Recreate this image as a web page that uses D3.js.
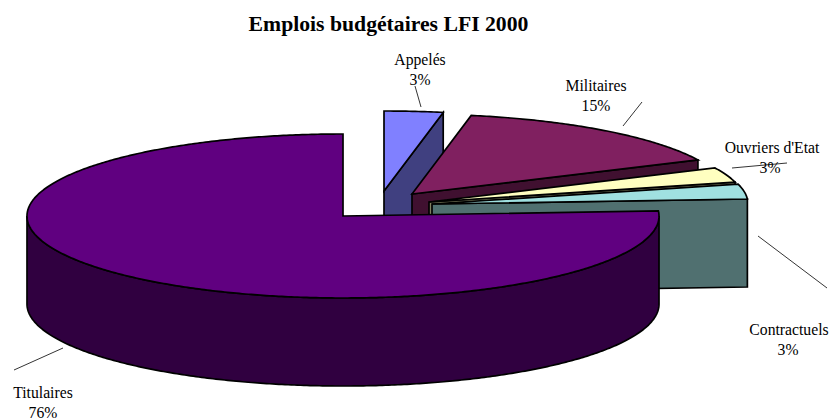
<!DOCTYPE html>
<html lang="fr">
<head>
<meta charset="utf-8">
<title>Emplois budgétaires LFI 2000</title>
<script src="https://cdn.jsdelivr.net/npm/d3@7/dist/d3.min.js"></script>
<style>
  html, body { margin: 0; padding: 0; background: #fff; overflow: hidden; }
  svg { display: block; }
  text { font-family: "Liberation Serif", "Times New Roman", serif; fill: #000; }
</style>
</head>
<body>
<svg id="chart" width="830" height="418"></svg>
<script>
// Budget posts by staff category, clockwise from twelve o'clock
const categories = ["Appelés", "Militaires", "Ouvriers d'Etat", "Contractuels", "Titulaires"];
const shares = [3, 15, 3, 3, 76];

// Palette for upper faces and for the darker side walls
const topColors = ["#8080ff", "#802060", "#ffffc0", "#a0e0e0", "#600080"];
const wallColors = ["#404080", "#401030", "#808060", "#507070", "#300040"];

// Exploded slice apexes in page coordinates, with each slice's vertical radius
const apexX = [384, 412, 429, 432, 343];
const apexY = [191, 194, 202, 204, 216];
const radiusY = [80, 80, 80, 80, 82];

// Label anchors and leader lines
const labelX = [420, 596, 772, 789, 43];
const labelY = [65, 91, 153, 335, 398];
const percentOffsetX = [0, 0, -2, -1, 0];
const leaders = [
  [[415, 86], [421, 107]],
  [[642, 102], [623, 126]],
  [[732, 168], [787, 163]],
  [[758, 236], [827, 288]],
  [[63, 348], [14, 370]]
];

const depth = 88;
const svg = d3.select("#chart");

// Tilted-disc projection: unit circle to the flattened ellipse
const px = d3.scaleLinear().domain([-1, 1]).range([-316, 316]);
const py = i => d3.scaleLinear().domain([-1, 1]).range([radiusY[i], -radiusY[i]]);

const pie = d3.pie().sort(null).value(d => d);
const slices = pie(shares);

const line = d3.line();
const rim = (i, a, drop = 0) => [
  apexX[i] + px(Math.sin(a)),
  apexY[i] + py(i)(Math.cos(a)) + drop
];
const sampleAngles = (a0, a1) => {
  const n = Math.max(2, Math.ceil((a1 - a0) / 0.01));
  return d3.range(n + 1).map(k => a0 + (a1 - a0) * k / n);
};

const pieG = svg.append("g")
  .attr("stroke", "#000")
  .attr("stroke-width", 1.7)
  .attr("stroke-linejoin", "miter");

slices.forEach((s, i) => {
  const a0 = s.startAngle, a1 = s.endAngle;
  const apex = [apexX[i], apexY[i]];

  // Flat cut face along the trailing edge, visible when it turns towards the viewer
  if (a1 < Math.PI) {
    const e = rim(i, a1);
    pieG.append("path")
      .attr("d", line([apex, e, [e[0], e[1] + depth], [apex[0], apex[1] + depth]]) + "Z")
      .attr("fill", wallColors[i]);
  }

  // Curved outer wall for the part of the rim on the near side of the disc
  const w0 = Math.max(a0, Math.PI / 2), w1 = Math.min(a1, Math.PI * 1.5);
  if (w1 > w0) {
    const arc = sampleAngles(w0, w1);
    const upper = arc.map(a => rim(i, a));
    const lower = arc.map(a => rim(i, a, depth)).reverse();
    pieG.append("path")
      .attr("d", line(upper.concat(lower)) + "Z")
      .attr("fill", wallColors[i]);
  }

  // Upper face of the slice
  const outline = [apex].concat(sampleAngles(a0, a1).map(a => rim(i, a)));
  pieG.append("path")
    .attr("d", line(outline) + "Z")
    .attr("fill", topColors[i]);
});

// Leader lines
svg.append("g")
  .selectAll("path")
  .data(leaders)
  .join("path")
  .attr("d", d => line(d))
  .attr("fill", "none")
  .attr("stroke", "#000")
  .attr("stroke-width", 0.8);

// Category names with their percentages below
const labels = svg.append("g")
  .attr("font-size", 15.7)
  .attr("text-anchor", "middle")
  .selectAll("g")
  .data(categories)
  .join("g");
labels.append("text")
  .attr("x", (d, i) => labelX[i])
  .attr("y", (d, i) => labelY[i])
  .text(d => d);
labels.append("text")
  .attr("x", (d, i) => labelX[i] + percentOffsetX[i])
  .attr("y", (d, i) => labelY[i] + 20)
  .text((d, i) => shares[i] + "%");

// Title
svg.append("text")
  .attr("x", 388.5)
  .attr("y", 31)
  .attr("text-anchor", "middle")
  .attr("font-size", 21.7)
  .attr("font-weight", "bold")
  .text("Emplois budgétaires LFI 2000");
</script>
</body>
</html>
